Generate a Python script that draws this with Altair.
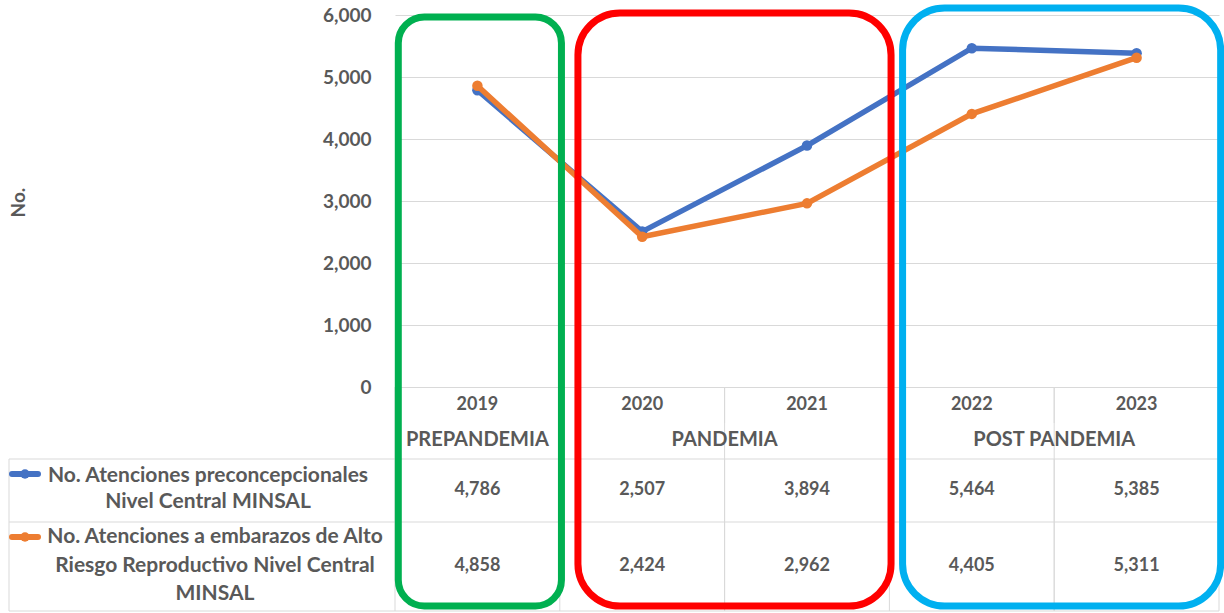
import altair as alt
import pandas as pd

# ---------------- data ----------------
years = [2019, 2020, 2021, 2022, 2023]
preconcepcionales = [4786, 2507, 3894, 5464, 5385]
alto_riesgo = [4858, 2424, 2962, 4405, 5311]
series_names = [
    "No. Atenciones preconcepcionales Nivel Central MINSAL",
    "No. Atenciones a embarazos de Alto Riesgo Reproductivo Nivel Central MINSAL",
]
row1_label_lines = ["No. Atenciones preconcepcionales", "Nivel Central MINSAL"]
row2_label_lines = ["No. Atenciones a embarazos de Alto", "Riesgo Reproductivo Nivel Central", "MINSAL"]
periods = ["PREPANDEMIA", "PANDEMIA", "POST PANDEMIA"]
period_first = [2019, 2020, 2022]
period_last = [2019, 2021, 2023]
# annotation boxes (x extents in year units)
box_left = [2018.52, 2019.61, 2021.58]
box_right = [2019.51, 2021.51, 2023.51]
box_colors = ["#00B050", "#FF0000", "#00B0F0"]
box_radius = [26, 42, 42]
y_ticks = [0, 1000, 2000, 3000, 4000, 5000, 6000]

# ---------------- layout ----------------
W, H = 824, 372
PAD_L, PAD_T = 395, 15
BLUE, ORANGE = "#4472C4", "#ED7D31"
GRID = "#D9D9D9"
TXT = "#595959"
FONT = "Lato"
FS_NUM = 18
FS_TXT = 20
FS_ROW = 21


def ry(abs_y):
    return abs_y - PAD_T


def rx(abs_x):
    return abs_x - PAD_L


xs = alt.Scale(domain=[years[0] - 0.5, years[-1] + 0.5], nice=False, zero=False)
ys = alt.Scale(domain=[0, 6000], nice=False)

df1 = pd.DataFrame({"year": years, "value": preconcepcionales})
df2 = pd.DataFrame({"year": years, "value": alto_riesgo})

yaxis = alt.Axis(
    values=y_ticks, format=",d", grid=True, gridColor=GRID, gridWidth=1,
    domain=False, ticks=False, labelPadding=24, labelFont=FONT,
    labelFontWeight="bold", labelFontSize=19, labelColor=TXT,
    title="No.", titleFont=FONT, titleFontWeight="bold", titleFontSize=19,
    titleColor=TXT, titleAngle=270, titleX=rx(18), titleY=ry(202),
    titleAlign="center", titleBaseline="middle",
)
X = alt.X("year:Q", scale=xs, axis=None)
Y = alt.Y("value:Q", scale=ys, axis=yaxis)


def line_layer(df, color):
    return alt.Chart(df).mark_line(
        color=color, strokeWidth=5.5,
        point=alt.OverlayMarkDef(color=color, size=110, filled=True, opacity=1),
    ).encode(x=X, y=Y)


blue_line = line_layer(df1, BLUE)
orange_line = line_layer(df2, ORANGE)

# ---------------- table grid ----------------
bounds = [y - 0.5 for y in years] + [years[-1] + 0.5]
df_bounds = pd.DataFrame({"b": bounds})
vrules = alt.Chart(df_bounds).mark_rule(color=GRID, strokeWidth=1).encode(
    x=alt.X("b:Q", scale=xs, axis=None),
    y=alt.value(ry(387)), y2=alt.value(ry(611)),
)
inner_bounds = [p + 0.5 for p, q in zip(period_first, period_last) if q > p]
df_inner = pd.DataFrame({"b": inner_bounds})
inner_rules = alt.Chart(df_inner).mark_rule(color=GRID, strokeWidth=1).encode(
    x=alt.X("b:Q", scale=xs, axis=None),
    y=alt.value(ry(387)), y2=alt.value(ry(423)),
)
inner_rules2 = alt.Chart(df_inner).mark_rule(color=GRID, strokeWidth=1).encode(
    x=alt.X("b:Q", scale=xs, axis=None),
    y=alt.value(ry(459)), y2=alt.value(ry(611)),
)
hrules = []
for yy in [459, 522, 611]:
    hrules.append(
        alt.Chart(df1.head(1)).mark_rule(color=GRID, strokeWidth=1).encode(
            x=alt.value(rx(9)), x2=alt.value(W), y=alt.value(ry(yy))
        )
    )
left_border = alt.Chart(df1.head(1)).mark_rule(color=GRID, strokeWidth=1).encode(
    x=alt.value(rx(9)), y=alt.value(ry(459)), y2=alt.value(ry(611))
)

# ---------------- table text ----------------
def txt(size, **kw):
    base = dict(font=FONT, fontWeight="bold", fontSize=size, color=TXT, baseline="middle")
    base.update(kw)
    return base

year_df = pd.DataFrame({"year": years, "label": [str(y) for y in years]})
year_text = alt.Chart(year_df).mark_text(**txt(FS_NUM, align="center")).encode(
    x=X, y=alt.value(ry(405)), text="label:N"
)
period_df = pd.DataFrame({"p": periods, "first": period_first, "last": period_last})
period_text = alt.Chart(period_df).transform_calculate(
    mid="(datum.first + datum.last) / 2"
).mark_text(**txt(FS_TXT, align="center")).encode(
    x=alt.X("mid:Q", scale=xs, axis=None), y=alt.value(ry(440)), text="p:N"
)

val1 = alt.Chart(df1).mark_text(**txt(FS_NUM, align="center")).encode(
    x=X, y=alt.value(ry(490)), text=alt.Text("value:Q", format=",d"),
)
val2 = alt.Chart(df2).mark_text(**txt(FS_NUM, align="center")).encode(
    x=X, y=alt.value(ry(566)), text=alt.Text("value:Q", format=",d"),
)

label_layers = []
for line, yy in zip(row1_label_lines, [476, 502]):
    label_layers.append(
        alt.Chart(pd.DataFrame({"t": [line]})).mark_text(**txt(FS_ROW, align="center")).encode(
            x=alt.value(rx(208)), y=alt.value(ry(yy)), text="t:N"
        )
    )
for line, yy in zip(row2_label_lines, [537, 566, 594]):
    label_layers.append(
        alt.Chart(pd.DataFrame({"t": [line]})).mark_text(**txt(FS_ROW, align="center")).encode(
            x=alt.value(rx(215)), y=alt.value(ry(yy)), text="t:N"
        )
    )

# legend keys in table
key_layers = []
for col, yy in [(BLUE, 474), (ORANGE, 537)]:
    key_layers.append(
        alt.Chart(df1.head(1)).mark_rule(color=col, strokeWidth=6, strokeCap="round").encode(
            x=alt.value(rx(12)), x2=alt.value(rx(38)), y=alt.value(ry(yy))
        )
    )
    key_layers.append(
        alt.Chart(df1.head(1)).mark_point(color=col, filled=True, size=90, opacity=1).encode(
            x=alt.value(rx(25)), y=alt.value(ry(yy))
        )
    )

# ---------------- annotation boxes ----------------
box_tops = [17, 13, 8]
box_layers = []
for l, r, c, rad, t in zip(box_left, box_right, box_colors, box_radius, box_tops):
    bdf = pd.DataFrame({"l": [l], "r": [r]})
    box_layers.append(
        alt.Chart(bdf).mark_rect(
            fillOpacity=0, fill="white", stroke=c, strokeWidth=7, cornerRadius=rad
        ).encode(
            x=alt.X("l:Q", scale=xs, axis=None), x2="r:Q",
            y=alt.value(ry(t)), y2=alt.value(ry(606)),
        )
    )

chart = alt.layer(
    vrules, inner_rules, inner_rules2, *hrules, left_border,
    blue_line, orange_line,
    year_text, period_text, val1, val2, *label_layers, *key_layers,
    *box_layers,
).properties(
    width=W, height=H,
    autosize=alt.AutoSizeParams(type="none"),
    padding={"left": PAD_L, "top": PAD_T, "right": 1224 - PAD_L - W, "bottom": 613 - PAD_T - H},
    background="white",
).configure_view(stroke=None, clip=False)

chart.save("out.html", embed_options={"renderer": "svg", "actions": False})
